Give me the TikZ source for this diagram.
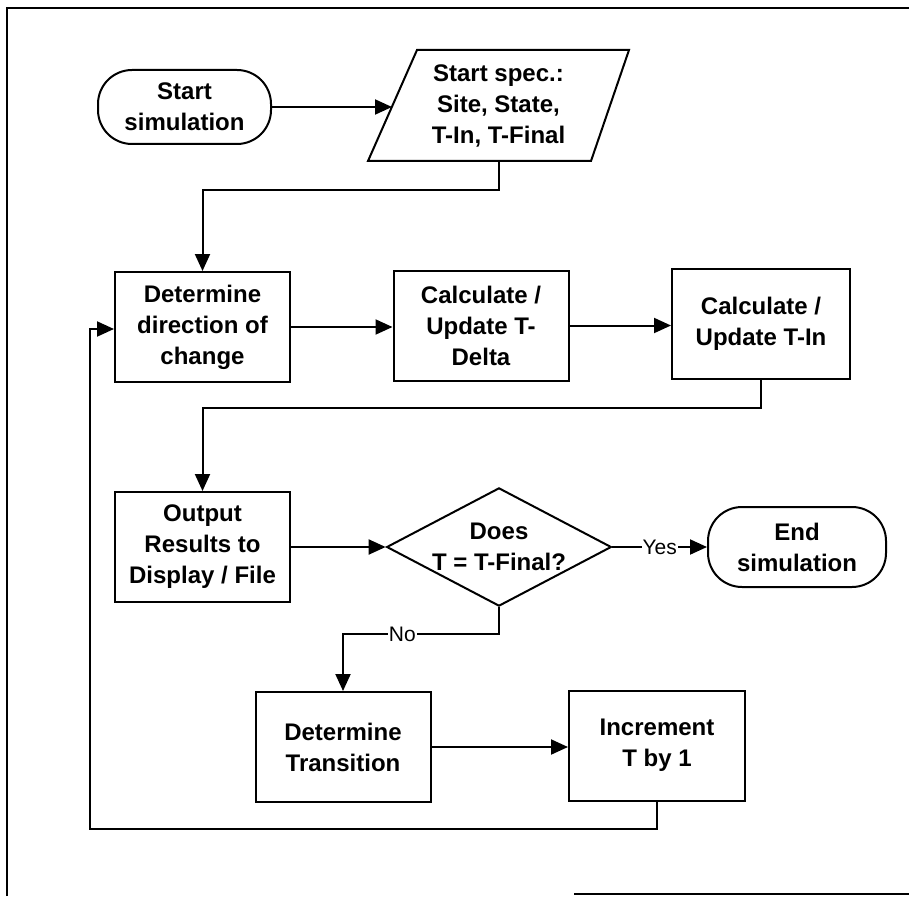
\documentclass[tikz,border=0pt]{standalone}
\usepackage{fontspec}
\setmainfont{Liberation Sans}
\usetikzlibrary{arrows.meta,shapes.geometric}
\begin{document}
\begin{tikzpicture}[x=1pt,y=-1pt,
  line width=2pt,
  every node/.style={align=center,font=\bfseries\fontsize{24}{31}\selectfont},
  procbox/.style={draw,rectangle,inner sep=0pt,minimum width=175pt,minimum height=110pt},
  termbox/.style={draw,rectangle,rounded corners=34pt,inner sep=0pt},
  decbox/.style={draw,diamond,aspect=1.9,inner sep=0pt,minimum width=210pt,minimum height=110pt},
  arr/.style={-{Triangle[length=17pt,width=15pt]}},
  lbl/.style={fill=white,inner sep=1pt,font=\fontsize{21}{23}\selectfont}]
\useasboundingbox (0,0) rectangle (909,896);

% page frame
\draw[line width=1.5pt] (7,896) -- (7,8) -- (909,8);
\draw[line width=1.5pt] (574,894) -- (909,894);

% shapes
\node[termbox,minimum width=173pt,minimum height=74pt] (start) at (184.5,107) {Start\\simulation};
\node[inner sep=0pt,minimum width=160pt,minimum height=111pt] (spec) at (498.5,105.5) {Start spec.:\\Site, State,\\T-In, T-Final};
\draw (368,161) -- (591,161) -- (629,50) -- (417,50) -- cycle;
\coordinate (specin) at (392,107);

\node[procbox] (det) at (202.5,327) {Determine\\direction of\\change};
\node[procbox] (delta) at (481,325.5) {Calculate /\\Update T-\\Delta};
\node[procbox,minimum width=178pt] (tin) at (761,323.5) {Calculate /\\Update T-In};
\node[procbox] (out) at (202.5,547) {Output\\Results to\\Display / File};
\node[decbox] (dec) at (499,547) {Does\\T = T-Final?};
\node[termbox,minimum width=178pt,minimum height=80pt] (end) at (797,547) {End\\simulation};
\node[procbox] (trans) at (343,747) {Determine\\Transition};
\node[procbox,minimum width=176pt] (inc) at (657,745.5) {Increment\\T by 1};

% connectors
\draw[arr] (start.east) -- (specin);
\draw[arr] (spec.south) -- ++(0,28) -| (det.north);
\draw[arr] (det.east) -- (det.east -| delta.west);
\draw[arr] (delta.east) -- (delta.east -| tin.west);
\draw[arr] (tin.south) -- ++(0,28) -| (out.north);
\draw[arr] (out.east) -- (dec.west);
\draw[arr] (dec.east) -- node[lbl] {Yes} (end.west);
\draw[arr] (dec.south) -- ++(0,27) -- node[lbl,pos=0.62] {No} ++(-156,0) -- (trans.north);
\draw[arr] (trans.east) -- (trans.east -| inc.west);
\draw[arr] (inc.south) -- ++(0,27) -| (90,329) -- (det.west |- 0,329);
\end{tikzpicture}
\end{document}
